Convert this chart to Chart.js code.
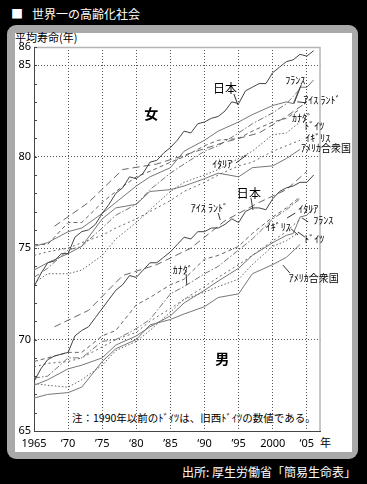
<!DOCTYPE html>
<html><head><meta charset="utf-8">
<script src="https://cdn.jsdelivr.net/npm/chart.js@4.4.1/dist/chart.umd.min.js"></script>
<style>
html,body{margin:0;padding:0;background:#000;width:367px;height:484px;overflow:hidden;font-family:"Noto Sans CJK JP",sans-serif;}
#panel{position:absolute;left:7px;top:25px;width:351px;height:434px;background:#a9a9a9;border-radius:9px;}
#inner{position:absolute;left:15px;top:33px;width:337px;height:419px;background:#fff;}
.t{position:absolute;white-space:nowrap;line-height:1;}
canvas{position:absolute;left:0;top:0;}
</style></head>
<body>
<div id="panel"></div><div id="inner"></div>
<div class="t" style="left:11px;top:8px;color:#fff;font-size:12px">■</div>
<div class="t" style="left:32px;top:8px;color:#fff;font-size:12px">世界一の高齢化社会</div>
<div class="t" style="left:15px;top:32px;color:#000;font-size:11px">平均寿命(年)</div>
<div class="t" style="left:72px;top:413px;color:#000;font-size:10.5px">注：1990年以前のﾄﾞｲﾂは、旧西ﾄﾞｲﾂの数値である。</div>
<div class="t" style="left:320px;top:437px;color:#000;font-size:11px">年</div>
<div class="t" style="left:182px;top:466px;color:#fff;font-size:12px">出所: 厚生労働省「簡易生命表」</div>
<canvas id="c" width="367" height="484"></canvas>
<script>
// ---- axis ticks ----
const xTickValues = [1965,1970,1975,1980,1985,1990,1995,2000,2005];
const xTickLabels = ['1965','‘70','’75','‘80','’85','‘90','’95','2000','‘05'];
const yTickValues = [65,66,67,68,69,70,71,72,73,74,75,76,77,78,79,80,81,82,83,84,85,86];
const yTickLabels = [65,70,75,80,85,86];

// ---- years ----
const japanYears = [1965,1966,1967,1968,1969,1970,1971,1972,1973,1974,1975,1976,1977,1978,1979,1980,1981,1982,1983,1984,1985,1986,1987,1988,1989,1990,1991,1992,1993,1994,1995,1996,1997,1998,1999,2000,2001,2002,2003,2004,2005,2006];
const otherYears = [1965,1967,1970,1972,1975,1977,1980,1982,1985,1987,1990,1992,1995,1997,2000,2002,2004];
const franceYears = [1965,1967,1970,1972,1975,1977,1980,1982,1985,1987,1990,1992,1995,1997,2000,2002,2003,2004,2005,2006];
const icelandYears = [1968,1973,1978,1983,1988,1993,1998,2002,2005];

// ---- female ----
const japanF = [72.9,73.6,74.2,74.3,74.7,74.7,75.6,75.9,76.0,76.3,76.9,77.4,78.0,78.3,78.9,78.8,79.1,79.7,79.8,80.2,80.5,80.9,81.4,81.3,81.8,81.9,82.1,82.2,82.5,83.0,82.9,83.6,83.8,84.0,84.0,84.6,84.9,85.2,85.3,85.6,85.5,85.8];
const franceF = [75.1,75.3,75.9,76.1,76.9,77.5,78.4,78.9,79.4,80.3,80.9,81.4,81.9,82.3,82.8,83.0,82.9,83.8,83.8,84.2];
const icelandF = [76.2,77.5,79.3,79.6,80.2,80.8,81.3,82.2,83.0];
const canadaF = [75.2,75.2,76.4,76.4,77.5,78.1,78.9,79.2,79.7,80.0,80.6,80.9,81.0,81.4,81.9,82.1,82.6];
const germanyF = [73.1,73.6,73.6,73.8,74.6,75.5,76.4,77.1,78.1,78.6,79.0,79.3,79.9,80.3,81.2,81.3,81.9];
const italyF = [73.4,73.9,74.9,75.1,76.1,76.8,77.4,78.2,79.1,79.6,80.3,80.6,81.3,81.8,82.4,82.9,83.7];
const ukF = [74.6,74.8,75.0,75.3,75.7,76.1,76.6,77.0,77.6,78.1,78.6,79.0,79.5,79.7,80.3,80.6,80.9];
const usaF = [73.8,74.2,74.7,75.1,76.6,77.2,77.4,78.1,78.2,78.4,78.8,79.1,78.9,79.4,79.5,79.9,80.4];

// ---- male ----
const japanM = [67.7,68.4,68.9,69.1,69.2,69.3,70.2,70.5,70.7,71.2,71.7,72.2,72.7,73.0,73.5,73.4,73.8,74.2,74.2,74.5,74.8,75.2,75.6,75.5,75.9,75.9,76.1,76.1,76.3,76.6,76.4,77.0,77.2,77.2,77.1,77.7,78.1,78.3,78.4,78.6,78.6,79.0];
const franceM = [67.5,67.8,68.4,68.6,69.0,69.7,70.2,70.7,71.3,72.0,72.7,73.2,73.9,74.6,75.3,75.7,75.8,76.7,76.8,77.2];
const icelandM = [70.7,71.6,73.5,74.1,75.0,76.5,77.5,78.2,79.2];
const canadaM = [68.8,69.0,69.3,69.3,70.2,70.5,71.9,72.3,73.0,73.3,74.4,74.6,75.1,75.8,76.7,77.2,77.8];
const germanyM = [67.6,67.5,67.4,67.8,68.6,69.4,69.9,70.5,71.5,72.2,72.6,72.9,73.3,74.1,75.1,75.4,75.9];
const italyM = [67.9,68.0,69.0,69.0,69.9,70.0,70.6,71.1,72.5,72.9,73.6,74.0,74.9,75.5,76.6,77.1,77.7];
const ukM = [68.5,68.7,68.8,69.0,69.6,70.0,70.4,71.0,71.7,72.2,72.9,73.4,74.1,74.6,75.4,75.9,76.6];
const usaM = [66.8,67.0,67.1,67.4,68.8,69.5,70.0,70.8,71.1,71.4,71.8,72.3,72.5,73.6,74.1,74.5,75.2];

// ---- annotations (data coordinates) ----
const labelTexts = ['女','男','日本','ｲﾀﾘｱ','ﾌﾗﾝｽ','ｱｲｽ ﾗﾝﾄﾞ','ｶﾅﾀﾞ','ﾄﾞｲﾂ','ｲｷﾞﾘｽ','ｱﾒﾘｶ合衆国',
  '日本','ｱｲｽ ﾗﾝﾄﾞ','ｲﾀﾘｱ','ﾌﾗﾝｽ','ｲｷﾞﾘｽ','ﾄﾞｲﾂ','ｶﾅﾀﾞ','ｱﾒﾘｶ合衆国'];
const labelYears = [1982.2,1992.6,1993.0,1992.6,2003.3,2007.2,2004.3,2006.1,2006.6,2007.8,
  1996.5,1990.7,2005.2,2007.4,2000.8,2006.1,1986.8,2006.0];
const labelValues = [82.35,68.93,83.74,79.58,84.18,83.1,82.1,81.66,81.0,80.47,
  77.99,77.17,77.11,76.54,76.13,75.47,73.8,73.34];
const leaderFrom = [[1994.3,83.43],[1994.6,79.66],[2004.2,83.95],[2004.9,82.95],[1996.8,77.75],[1992.0,76.92],[2003.3,76.92],[2005.2,76.43],[2002.7,76.05],[2004.7,75.61],[1987.3,73.58],[2002.5,73.64]];
const leaderTo   = [[1994.9,82.83],[1996.2,80.10],[2003.1,82.9],[2003.6,83.0],[1997.1,77.09],[1992.3,76.54],[2002.1,76.65],[2004.3,76.65],[2003.7,75.72],[2003.7,75.88],[1987.4,72.98],[2001.5,74.07]];

const FONT = '"Noto Sans CJK JP", sans-serif';
const TICKFONT = '"Noto Sans", "Noto Sans CJK JP", sans-serif';
function pts(xs, ys){ return xs.map((x,i)=>({x:x, y:ys[i]})); }
function ds(label, xs, ys, color, dash, w){
  return {label, data: pts(xs, ys), borderColor: color, borderDash: dash, borderWidth: w||1, pointRadius:0, tension:0, fill:false, spanGaps:true};
}
const datasets = [
  ds('日本 女', japanYears, japanF, '#444', []),
  ds('フランス 女', franceYears, franceF, '#777', []),
  ds('アイスランド 女', icelandYears, icelandF, '#666', [7,4]),
  ds('カナダ 女', otherYears, canadaF, '#666', [4,3]),
  ds('ドイツ 女', otherYears, germanyF, '#666', [1.5,2]),
  ds('イタリア 女', otherYears, italyF, '#777', [6,2,1.5,2]),
  ds('イギリス 女', otherYears, ukF, '#666', [2,3]),
  ds('アメリカ合衆国 女', otherYears, usaF, '#777', []),
  ds('日本 男', japanYears, japanM, '#444', []),
  ds('フランス 男', franceYears, franceM, '#777', []),
  ds('アイスランド 男', icelandYears, icelandM, '#666', [7,4]),
  ds('カナダ 男', otherYears, canadaM, '#666', [4,3]),
  ds('ドイツ 男', otherYears, germanyM, '#666', [1.5,2]),
  ds('イタリア 男', otherYears, italyM, '#777', [6,2,1.5,2]),
  ds('イギリス 男', otherYears, ukM, '#666', [2,3]),
  ds('アメリカ合衆国 男', otherYears, usaM, '#777', [])
];

const decor = {
  id: 'decor',
  beforeDatasetsDraw(chart){
    const {ctx, chartArea: a, scales: {y}} = chart;
    ctx.save();
    ctx.strokeStyle = '#b5b5b5'; ctx.lineWidth = 1.5;
    ctx.beginPath(); ctx.moveTo(a.left, a.top+0.5); ctx.lineTo(a.right-0.5, a.top+0.5); ctx.lineTo(a.right-0.5, a.bottom); ctx.stroke();
    ctx.strokeStyle = '#444'; ctx.lineWidth = 1;
    ctx.beginPath();
    yTickValues.forEach(v => { const py = Math.round(y.getPixelForValue(v)) + 0.5; ctx.moveTo(a.left, py); ctx.lineTo(a.left + 3, py); });
    ctx.stroke();
    ctx.restore();
  },
  afterDatasetsDraw(chart){
    const {ctx, scales: {x, y}} = chart;
    ctx.save();
    ctx.strokeStyle = '#333'; ctx.lineWidth = 1;
    leaderFrom.forEach((f,i) => {
      const t = leaderTo[i];
      ctx.beginPath();
      ctx.moveTo(x.getPixelForValue(f[0]), y.getPixelForValue(f[1]));
      ctx.lineTo(x.getPixelForValue(t[0]), y.getPixelForValue(t[1]));
      ctx.stroke();
    });
    ctx.fillStyle = '#000'; ctx.textAlign = 'center'; ctx.textBaseline = 'middle';
    labelTexts.forEach((s,i) => {
      const big = (s === '女' || s === '男');
      ctx.font = big ? 'bold 14px ' + FONT : (s === '日本' ? '12px ' : '10px ') + FONT;
      ctx.fillText(s, x.getPixelForValue(labelYears[i]), y.getPixelForValue(labelValues[i]));
    });
    ctx.restore();
  }
};

new Chart(document.getElementById('c'), {
  type: 'line',
  data: { datasets },
  plugins: [decor],
  options: {
    responsive: false, animation: false, devicePixelRatio: 1,
    layout: { padding: { left: 0, top: 47, right: 46.5, bottom: 33 } },
    plugins: { legend: { display: false }, tooltip: { enabled: false } },
    scales: {
      x: {
        type: 'linear', min: 1965, max: 2007,
        afterFit(s){ s.height = 20; },
        afterBuildTicks(s){ s.ticks = xTickValues.map(v => ({value: v})); },
        ticks: { autoSkip: false, maxRotation: 0, padding: 6, color: '#000', font: {family: TICKFONT, size: 11},
                 callback: (v) => xTickLabels[xTickValues.indexOf(v)] },
        grid: { drawTicks: false, lineWidth: 1, color: (c) => (c.tick && c.tick.value === 1965) ? 'rgba(0,0,0,0)' : '#555' },
        border: { display: true, color: '#444', width: 1, dash: [1,2] }
      },
      y: {
        min: 65, max: 86,
        afterFit(s){ s.width = 34; },
        afterBuildTicks(s){ s.ticks = yTickValues.map(v => ({value: v})); },
        ticks: { autoSkip: false, padding: 3, color: '#000', font: {family: TICKFONT, size: 11},
                 callback: (v) => yTickLabels.includes(v) ? String(v) : '' },
        grid: { drawTicks: false, lineWidth: 1,
                color: (c) => (c.tick && [70,75,80,85].includes(c.tick.value)) ? '#555' : 'rgba(0,0,0,0)' },
        border: { display: true, color: '#444', width: 1, dash: [1,2] }
      }
    }
  }
});
</script>
</body></html>
